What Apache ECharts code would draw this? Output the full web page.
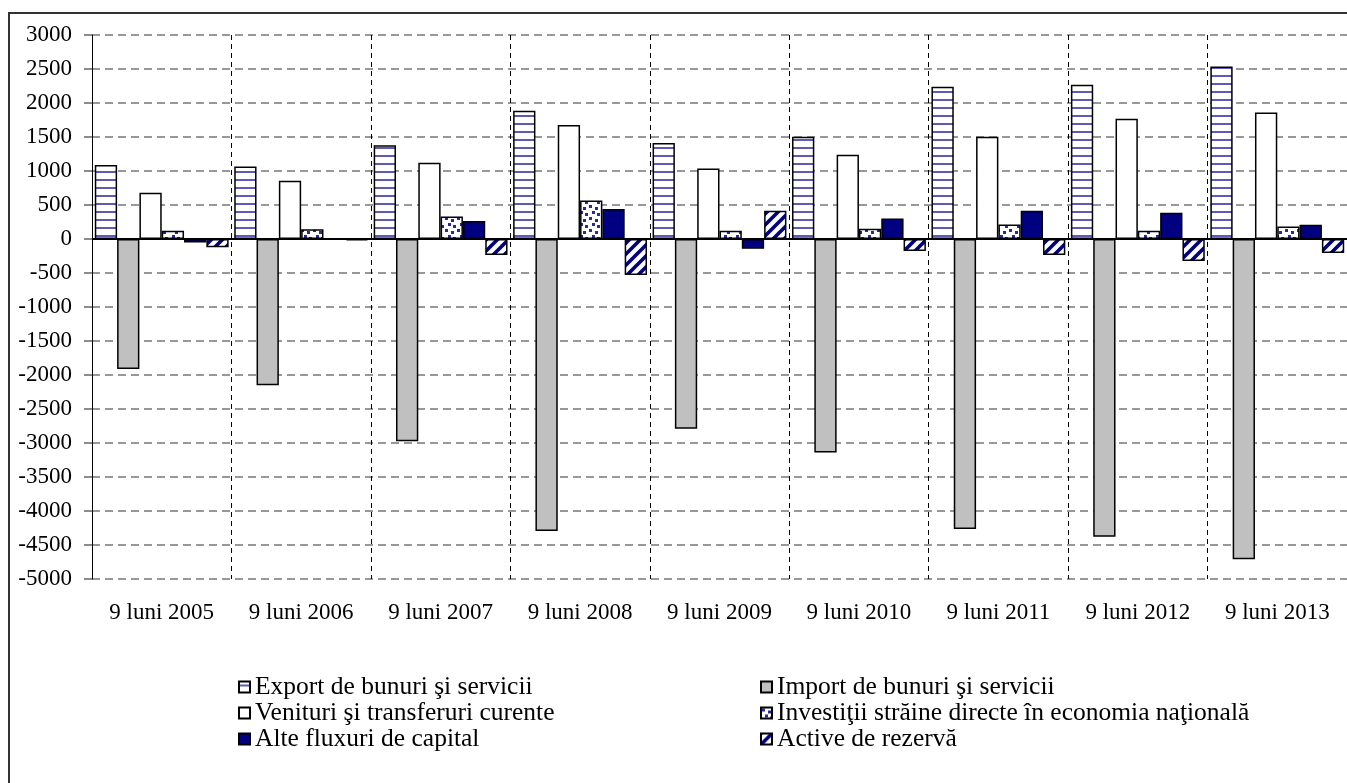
<!DOCTYPE html>
<html>
<head>
<meta charset="utf-8">
<script src="https://cdn.jsdelivr.net/npm/echarts@6/dist/echarts.min.js"></script>
<style>
html,body{margin:0;padding:0;background:#fff;}
#chart{width:1347px;height:783px;}
</style>
</head>
<body>
<div id="chart"></div>
<script>
const categories = ['9 luni 2005','9 luni 2006','9 luni 2007','9 luni 2008','9 luni 2009','9 luni 2010','9 luni 2011','9 luni 2012','9 luni 2013'];
const exportVals = [1090, 1065, 1380, 1885, 1410, 1505, 2240, 2270, 2535];
const importVals = [-1910, -2150, -2975, -4295, -2790, -3140, -4265, -4380, -4710];
const venituriVals = [680, 855, 1120, 1675, 1035, 1240, 1505, 1770, 1860];
const investitiiVals = [120, 145, 330, 565, 120, 150, 215, 120, 185];
const alteVals = [-50, 0, 265, 440, -145, 300, 415, 385, 210];
const activeVals = [-120, -20, -235, -530, 415, -175, -235, -325, -205];
const seriesNames = ['Export de bunuri şi servicii','Import de bunuri şi servicii','Venituri şi transferuri curente','Investiţii străine directe în economia naţională','Alte fluxuri de capital','Active de rezervă'];

function tile(w, h, draw) {
  const c = document.createElement('canvas');
  c.width = w; c.height = h;
  const ctx = c.getContext('2d');
  ctx.fillStyle = '#fff';
  ctx.fillRect(0, 0, w, h);
  draw(ctx);
  return c;
}
const stripePattern = tile(8, 8, ctx => {
  ctx.fillStyle = '#5c5cb8';
  ctx.fillRect(0, 3, 8, 2);
});
const dotPattern = tile(12, 12, ctx => {
  ctx.fillStyle = '#2a2a9a';
  ctx.fillRect(1, 1, 3, 3);
  ctx.fillRect(7, 3, 3, 3);
  ctx.fillRect(4, 7, 3, 3);
  ctx.fillRect(9, 9, 3, 3);
});
const diagPattern = tile(11, 11, ctx => {
  ctx.strokeStyle = '#000080';
  ctx.lineWidth = 3.6;
  ctx.beginPath();
  for (let k = -1; k <= 1; k++) {
    ctx.moveTo(k * 11 - 2, 13);
    ctx.lineTo(k * 11 + 13, -2);
  }
  ctx.stroke();
});

const fonts = "'Liberation Serif', 'DejaVu Serif', serif";
const border = { borderColor: '#000', borderWidth: 1.5 };
function bar(name, data, color, extra) {
  return Object.assign({
    name: name,
    type: 'bar',
    data: data,
    barGap: '0%',
    barCategoryGap: '4%',
    itemStyle: Object.assign({ color: color }, border),
    emphasis: { disabled: true },
    animation: false
  }, extra || {});
}

const legendText = { fontFamily: fonts, fontSize: 25.5, color: '#000' };
const chart = echarts.init(document.getElementById('chart'), null, { renderer: 'canvas' });
chart.setOption({
  backgroundColor: '#fff',
  animation: false,
  graphic: [{
    type: 'rect',
    shape: { x: 9, y: 13, width: 1400, height: 800 },
    style: { fill: 'none', stroke: '#333', lineWidth: 2 },
    z: 0
  }],
  grid: { left: 92, right: -5, top: 35, bottom: 204, containLabel: false },
  legend: [{
    orient: 'vertical', left: 238, top: 674, itemGap: 0, padding: 0,
    icon: 'rect', itemWidth: 11, itemHeight: 11,
    textStyle: legendText,
    data: [seriesNames[0], seriesNames[2], seriesNames[4]],
    selectedMode: false
  }, {
    orient: 'vertical', left: 760, top: 674, itemGap: 0, padding: 0,
    icon: 'rect', itemWidth: 11, itemHeight: 11,
    textStyle: legendText,
    data: [seriesNames[1], seriesNames[3], seriesNames[5]],
    selectedMode: false
  }],
  xAxis: {
    type: 'category',
    data: categories,
    position: 'bottom',
    axisLine: { show: false, onZero: false },
    axisTick: { show: false },
    splitLine: { show: true, lineStyle: { color: '#000', type: [5, 4], width: 1 } },
    axisLabel: { margin: 22, fontFamily: fonts, fontSize: 23, color: '#000' }
  },
  yAxis: {
    type: 'value',
    min: -5000, max: 3000, interval: 500,
    axisLine: { show: true, lineStyle: { color: '#000', width: 1 } },
    axisTick: { show: true, length: 8, lineStyle: { color: '#666', width: 1.5 } },
    splitLine: { show: true, lineStyle: { color: '#777', type: [8, 5], width: 1.5 } },
    axisLabel: { margin: 20, fontFamily: fonts, fontSize: 23, color: '#000', formatter: v => String(v) }
  },
  series: [
    bar(seriesNames[0], exportVals, { image: stripePattern, repeat: 'repeat' }),
    bar(seriesNames[1], importVals, '#c0c0c0'),
    bar(seriesNames[2], venituriVals, '#ffffff'),
    bar(seriesNames[3], investitiiVals, { image: dotPattern, repeat: 'repeat' }),
    bar(seriesNames[4], alteVals, '#000080'),
    bar(seriesNames[5], activeVals, { image: diagPattern, repeat: 'repeat' }, {
      markLine: {
        silent: true, symbol: 'none', animation: false,
        label: { show: false },
        lineStyle: { color: '#000', type: 'solid', width: 2 },
        data: [{ yAxis: 0 }]
      }
    })
  ]
});
</script>
</body>
</html>
